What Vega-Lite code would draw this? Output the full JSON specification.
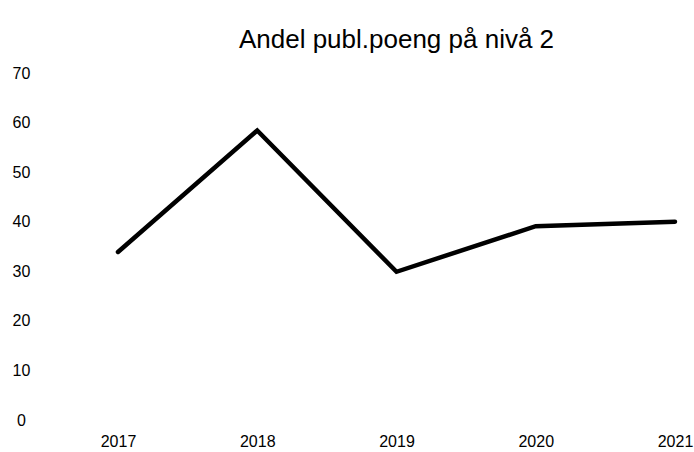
{
  "$schema": "https://vega.github.io/schema/vega-lite/v6.json",
  "autosize": "none",
  "width": 557,
  "height": 347,
  "padding": {"left": 118, "top": 73, "right": 19, "bottom": 32},
  "background": "white",
  "config": {"view": {"stroke": null}, "font": "Liberation Sans"},
  "title": {"text": "Andel publ.poeng på nivå 2", "fontSize": 26, "fontWeight": "normal", "color": "black", "anchor": "middle", "offset": 12, "font": "Liberation Sans"},
  "data": {"values": [
    {"year": "2017", "value": 33.9},
    {"year": "2018", "value": 58.4},
    {"year": "2019", "value": 29.9},
    {"year": "2020", "value": 39.1},
    {"year": "2021", "value": 40.0}
  ]},
  "mark": {"type": "line", "color": "black", "strokeWidth": 4.5, "strokeCap": "round", "strokeJoin": "miter"},
  "encoding": {
    "x": {"field": "year", "type": "ordinal", "scale": {"type": "point", "padding": 0}, "axis": {"title": null, "domain": false, "ticks": false, "tickSize": 0, "labelAngle": 0, "labelFontSize": 16, "labelColor": "black", "labelPadding": 13, "grid": false}},
    "y": {"field": "value", "type": "quantitative", "scale": {"domain": [0, 70]}, "axis": {"title": null, "domain": false, "ticks": false, "tickSize": 0, "grid": false, "values": [0,10,20,30,40,50,60,70], "labelFontSize": 16, "labelColor": "black", "labelAlign": "center", "labelPadding": 97}}
  }
}
